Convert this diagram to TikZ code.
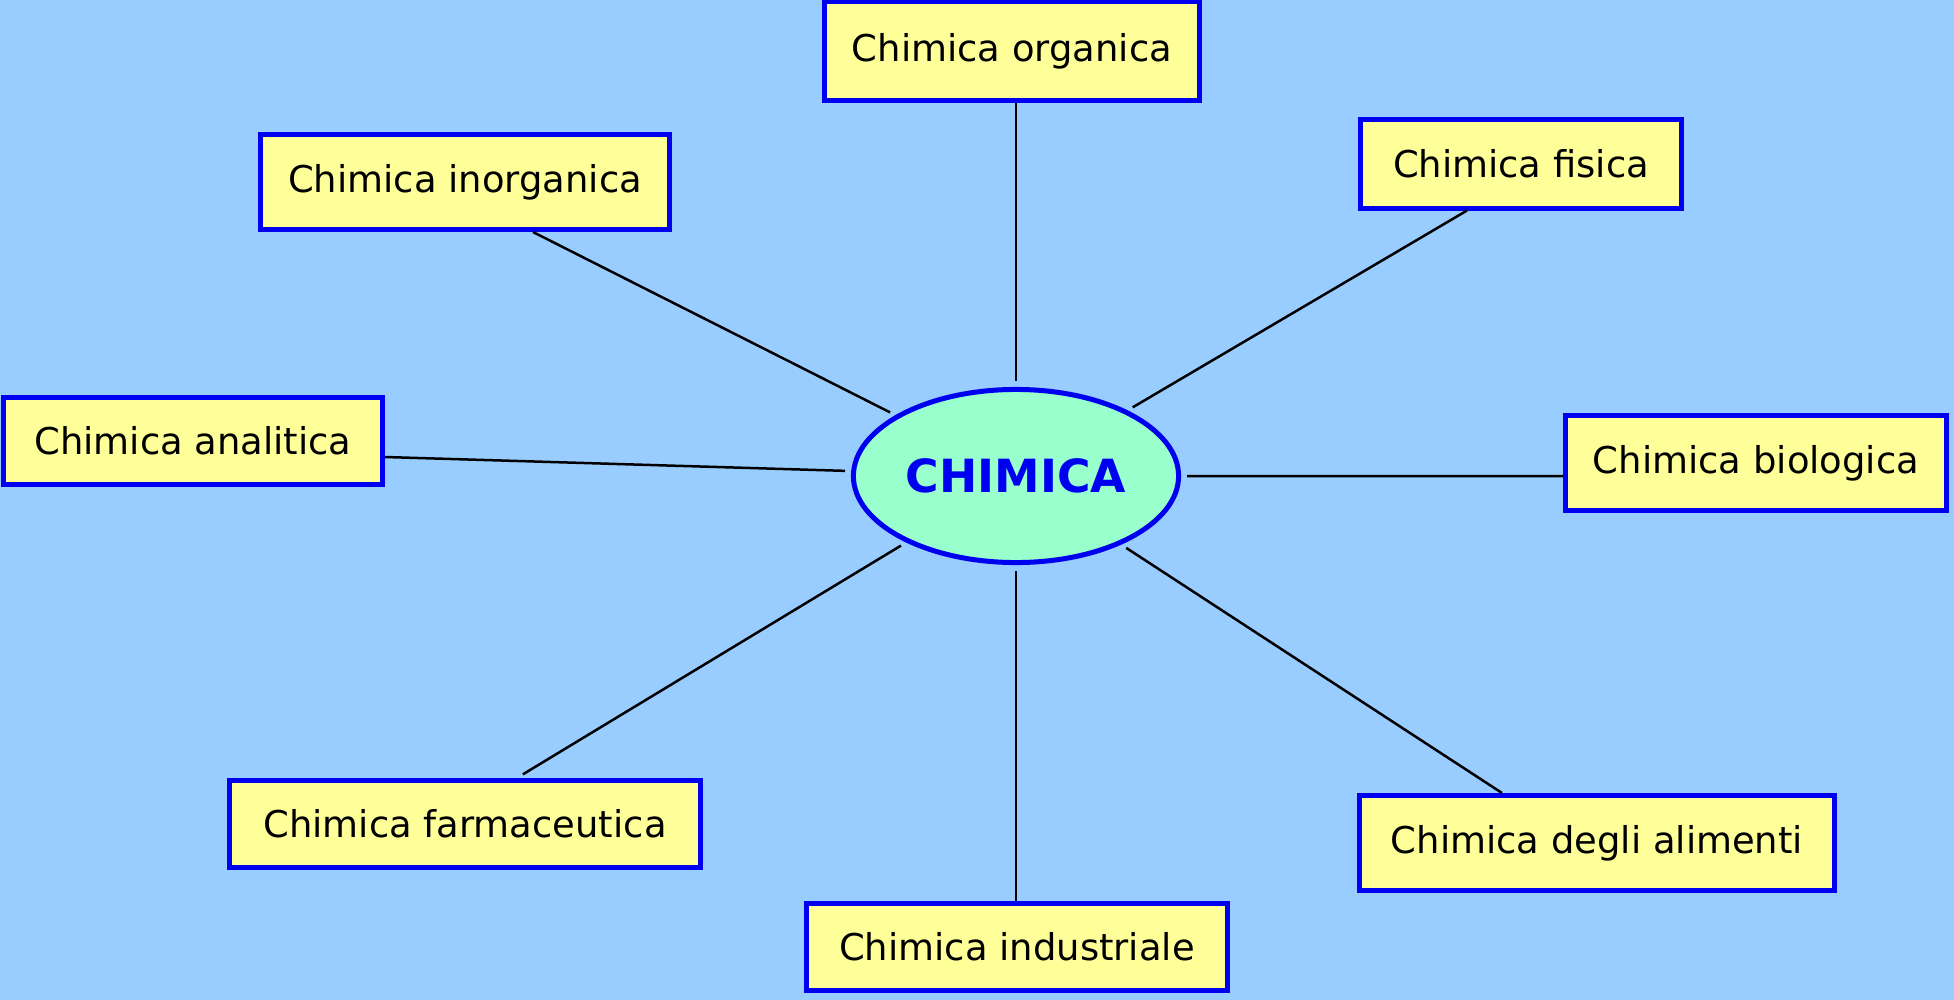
\documentclass[tikz,border=0pt]{standalone}
\usepackage{fontspec}
\setmainfont{DejaVu Sans}
\usepackage{tikz}
\usetikzlibrary{shapes.geometric}
\definecolor{skyback}{RGB}{153,204,255}
\definecolor{boxyellow}{RGB}{255,255,153}
\definecolor{mintgreen}{RGB}{153,255,204}
\definecolor{rimblue}{RGB}{0,0,240}

\begin{document}
\begin{tikzpicture}[x=0.01cm,y=-0.01cm,
    branch/.style={draw=rimblue,fill=boxyellow,line width=0.05cm,inner sep=0pt,
        font=\fontsize{10.5}{12}\selectfont},
    hubnode/.style={ellipse,draw=rimblue,fill=mintgreen,line width=0.05cm,inner sep=0pt,
        minimum width=3.25cm,minimum height=1.73cm,text=rimblue,
        font=\fontsize{13}{15}\selectfont\bfseries},
    link/.style={black,line width=0.025cm,shorten <=0.06cm}]

    % Background
    \useasboundingbox (0,0) rectangle (1954,1000);
    \fill[skyback] (0,0) rectangle (1954,1000);

    % Centre
    \node[hubnode] (hub) at (1016,476) {CHIMICA};

    % Branches
    \foreach \nm/\x/\y/\w/\h/\txt in {
        org/1012/51/3.75cm/0.98cm/Chimica organica,
        inorg/465/182/4.08cm/0.95cm/Chimica inorganica,
        fis/1521/164/3.21cm/0.88cm/Chimica fisica,
        anal/193/441/3.79cm/0.87cm/Chimica analitica,
        bio/1756/463/3.81cm/0.94cm/Chimica biologica,
        farm/465/824/4.71cm/0.86cm/Chimica farmaceutica,
        ind/1017/947/4.20cm/0.86cm/Chimica industriale,
        alim/1597/843/4.74cm/0.95cm/Chimica degli alimenti}
        \node[branch,minimum width=\w,minimum height=\h] (\nm) at (\x,\y) {\txt};

    % Links
    \draw[link] (hub) -- (hub |- org.south);
    \draw[link] (hub) -- ([xshift=0.68cm]inorg.south);
    \draw[link] (hub) -- ([xshift=-0.54cm]fis.south);
    \draw[link] (hub) -- ([yshift=-0.16cm]anal.east);
    \draw[link] (hub) -- ([yshift=-0.13cm]bio.west);
    \draw[link,shorten >=0.08cm] (hub) -- ([xshift=0.51cm]farm.north);
    \draw[link] (hub) -- (hub |- ind.north);
    \draw[link] (hub) -- ([xshift=-0.95cm]alim.north);
\end{tikzpicture}
\end{document}
